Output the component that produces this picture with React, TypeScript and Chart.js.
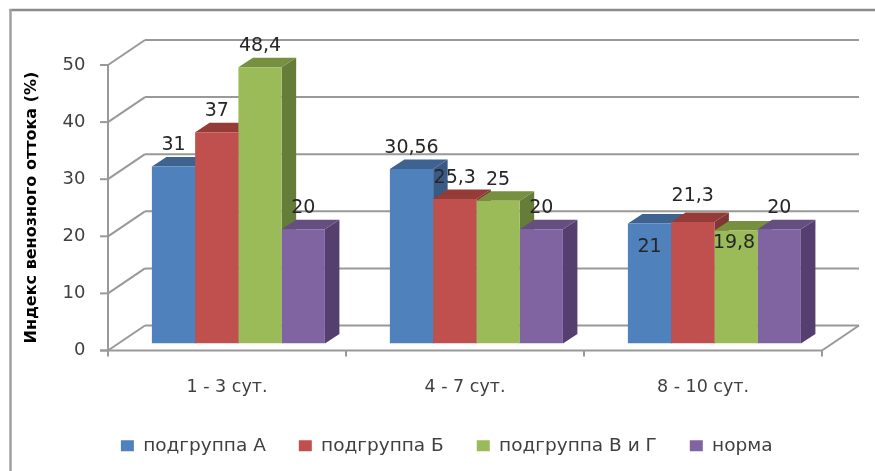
import React, { useEffect, useRef } from "react";
import { Chart, registerables } from "chart.js";

Chart.register(...registerables);

const categories = ["1 - 3 сут.", "4 - 7 сут.", "8 - 10 сут."];
const subgroupA = [31, 30.56, 21];
const subgroupB = [37, 25.3, 21.3];
const subgroupVG = [48.4, 25, 19.8];
const norm = [20, 20, 20];
const seriesNames = ["подгруппа А", "подгруппа Б", "подгруппа В и Г", "норма"];
const yTicks = [0, 10, 20, 30, 40, 50];

const frontColors = ["#4F81BD", "#C0504D", "#9BBB59", "#8064A2"];
const topColors = ["#3E6390", "#953B38", "#77903F", "#654E80"];
const sideColors = ["#385A85", "#7F3634", "#667D3A", "#553F6E"];
// label nudges (px) relative to the default spot above each bar: [dx, dy]
const labelNudge = [
  [[0, 0], [0, 0], [0, 44]],
  [[0, 0], [0, 0], [0, -5]],
  [[0, 0], [0, 0], [-2, 34]],
  [[0, 0], [0, 0], [0, 0]],
];

const FONT = "'DejaVu Sans', sans-serif";
const GRID = "#999999";
const FLOOR_DX = 37;
const FLOOR_DY = 25;
const BAR_SHIFT_X = 11.4;
const BAR_SHIFT_Y = 7;
const BAR_DX = 14.5;
const BAR_DY = 9.5;

const fmt = (v: number) => String(v).replace(".", ",");

const wallsPlugin = {
  id: "walls",
  beforeDraw(chart: any) {
    const { ctx, scales } = chart;
    const { x, y } = scales;
    const fx0 = x.left - BAR_SHIFT_X;
    const fx1 = x.right - BAR_SHIFT_X;
    const line = (a: number, b: number, c: number, d: number, col = GRID, w = 2) => {
      ctx.beginPath();
      ctx.strokeStyle = col;
      ctx.lineWidth = w;
      ctx.moveTo(a, b);
      ctx.lineTo(c, d);
      ctx.stroke();
    };
    ctx.save();
    ctx.fillStyle = "#FFFFFF";
    ctx.fillRect(0, 0, chart.width, chart.height);
    // outer frame
    line(9.5, 10, 875, 10, "#8C8C8C", 2.5);
    line(10.5, 9, 10.5, 471, "#A0A0A0", 2.5);
    for (const v of yTicks) {
      const fy = y.getPixelForValue(v) + BAR_SHIFT_Y;
      const by = fy - FLOOR_DY;
      line(fx0 + FLOOR_DX, by, fx1 + FLOOR_DX, by);
      line(fx0, fy, fx0 + FLOOR_DX, by);
      line(fx0 - 8, fy, fx0, fy);
    }
    const y0 = y.getPixelForValue(0) + BAR_SHIFT_Y;
    const y50 = y.getPixelForValue(50) + BAR_SHIFT_Y;
    line(fx0, y50, fx0, y0 + 6);
    line(fx0 - 8, y0, fx1, y0);
    line(fx1, y0, fx1 + FLOOR_DX, y0 - FLOOR_DY);
    const n = categories.length;
    for (let i = 1; i <= n; i++) {
      const tx = fx0 + ((fx1 - fx0) * i) / n;
      line(tx, y0, tx, y0 + 6);
    }
    ctx.restore();
  },
  beforeDatasetsDraw(chart: any) {
    const { ctx } = chart;
    ctx.save();
    // left-to-right so that each bar's top overlaps its left neighbour's side;
    // the chart then paints the front faces over all of these.
    chart.data.datasets.forEach((_: any, k: number) => {
      for (const bar of chart.getDatasetMeta(k).data) {
        const p = bar.getProps(["x", "y", "base", "width"], true);
        const l = p.x - p.width / 2;
        const r = p.x + p.width / 2;
        ctx.fillStyle = sideColors[k];
        ctx.beginPath();
        ctx.moveTo(r, p.y);
        ctx.lineTo(r + BAR_DX, p.y - BAR_DY);
        ctx.lineTo(r + BAR_DX, p.base - BAR_DY);
        ctx.lineTo(r, p.base);
        ctx.closePath();
        ctx.fill();
        ctx.fillStyle = topColors[k];
        ctx.beginPath();
        ctx.moveTo(l, p.y);
        ctx.lineTo(l + BAR_DX, p.y - BAR_DY);
        ctx.lineTo(r + BAR_DX, p.y - BAR_DY);
        ctx.lineTo(r, p.y);
        ctx.closePath();
        ctx.fill();
      }
    });
    ctx.restore();
  },
  afterDatasetsDraw(chart: any) {
    const { ctx } = chart;
    ctx.save();
    ctx.font = `19px ${FONT}`;
    ctx.fillStyle = "#262626";
    ctx.textAlign = "center";
    ctx.textBaseline = "middle";
    chart.data.datasets.forEach((ds: any, k: number) => {
      chart.getDatasetMeta(k).data.forEach((bar: any, i: number) => {
        const [dx, dy] = labelNudge[k][i];
        ctx.fillText(fmt(ds.data[i]), bar.x + dx, bar.y - 21 + dy);
      });
    });
    ctx.restore();
  },
};

export default function App() {
  const ref = useRef<HTMLCanvasElement | null>(null);
  useEffect(() => {
    const seriesValues = [subgroupA, subgroupB, subgroupVG, norm];
    const chart = new Chart(ref.current as HTMLCanvasElement, {
      type: "bar",
      data: {
        labels: categories,
        datasets: seriesNames.map((name, k) => ({
          label: name,
          data: seriesValues[k],
          backgroundColor: frontColors[k],
          categoryPercentage: 0.727,
          barPercentage: 1,
        })),
      },
      plugins: [wallsPlugin],
      options: {
        responsive: false,
        animation: false,
        layout: { padding: { left: 60, right: 41.6, top: 58, bottom: 6 } },
        plugins: {
          tooltip: { enabled: false },
          title: { display: false },
          legend: {
            position: "bottom",
            labels: {
              boxWidth: 13,
              boxHeight: 11,
              padding: 33,
              color: "#404040",
              font: { family: FONT, size: 18.5 },
            },
          },
        },
        scales: {
          x: {
            grid: { display: false },
            border: { display: false },
            afterFit: (s: any) => { s.height = 60; },
            ticks: {
              labelOffset: -BAR_SHIFT_X,
              padding: 25,
              color: "#404040",
              maxRotation: 0,
              font: { family: FONT, size: 17.5 },
            },
          },
          y: {
            min: 0,
            max: 50,
            grid: { display: false },
            border: { display: false },
            afterFit: (s: any) => { s.width = 59.4; },
            title: {
              display: true,
              align: "start",
              text: "Индекс венозного оттока (%)",
              color: "#000000",
              font: { family: FONT, size: 16, weight: "bold" },
              padding: { top: -37.5, bottom: 0 },
            },
            ticks: {
              stepSize: 10,
              labelOffset: BAR_SHIFT_Y,
              padding: 26,
              color: "#404040",
              font: { family: FONT, size: 18 },
            },
          },
        },
      },
    } as any);
    return () => chart.destroy();
  }, []);
  return (
    <div style={{ position: "fixed", left: 0, top: 0, width: 875, height: 471 }}>
      <canvas ref={ref} width={875} height={471} style={{ display: "block" }} />
    </div>
  );
}
